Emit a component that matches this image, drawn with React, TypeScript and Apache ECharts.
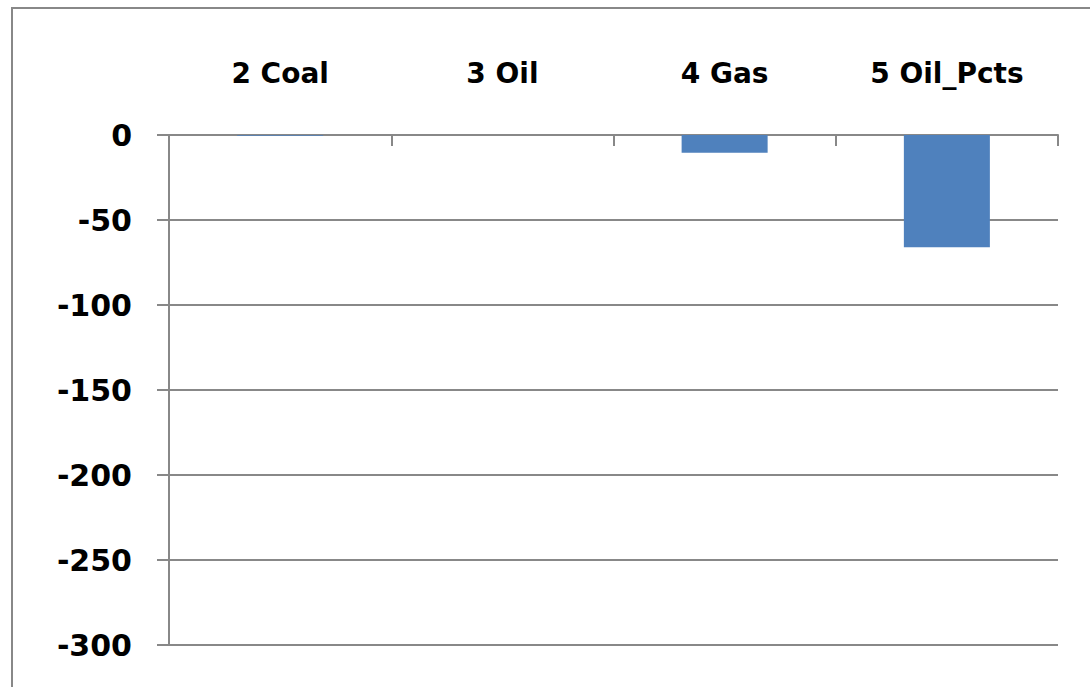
import React, { useEffect, useRef } from "react";
import * as echarts from "echarts";

const categories = ["2 Coal", "3 Oil", "4 Gas", "5 Oil_Pcts"];
const values = [-0.5, 0, -10.5, -66];
const yMin = -300;
const yMax = 0;
const yInterval = 50;

export default function App() {
  const ref = useRef<HTMLDivElement>(null);
  useEffect(() => {
    if (!ref.current) return;
    const chart = echarts.init(ref.current, null, { renderer: "svg" });
    const gray = "#888888";
    chart.setOption({
      animation: false,
      backgroundColor: "#ffffff",
      graphic: [
        {
          type: "rect",
          shape: { x: 12, y: 8, width: 1200, height: 800 },
          style: { fill: "none", stroke: gray, lineWidth: 2 },
          silent: true,
        },
      ],
      grid: { left: 169, top: 135, right: 32, bottom: 42, containLabel: false },
      xAxis: {
        type: "category",
        data: categories,
        position: "top",
        axisLine: { show: true, lineStyle: { color: gray, width: 2 } },
        axisTick: { show: true, inside: true, length: 11, lineStyle: { color: gray, width: 2 } },
        axisLabel: {
          margin: 48,
          color: "#000",
          fontFamily: "DejaVu Sans",
          fontWeight: "bold",
          fontSize: 28,
        },
        splitLine: { show: false },
      },
      yAxis: {
        type: "value",
        min: yMin,
        max: yMax,
        interval: yInterval,
        axisLine: { show: true, lineStyle: { color: gray, width: 2 } },
        axisTick: { show: true, length: 12, lineStyle: { color: gray, width: 2 } },
        axisLabel: {
          margin: 37,
          color: "#000",
          fontFamily: "DejaVu Sans",
          fontWeight: "bold",
          fontSize: 30,
        },
        splitLine: { show: true, lineStyle: { color: gray, width: 2 } },
      },
      series: [
        {
          type: "bar",
          data: values,
          barWidth: "38.7%",
          itemStyle: { color: "#4F81BD" },
        },
      ],
    });
    return () => chart.dispose();
  }, []);
  return (
    <div
      ref={ref}
      style={{ position: "fixed", left: 0, top: 0, width: 1090, height: 687 }}
    />
  );
}
